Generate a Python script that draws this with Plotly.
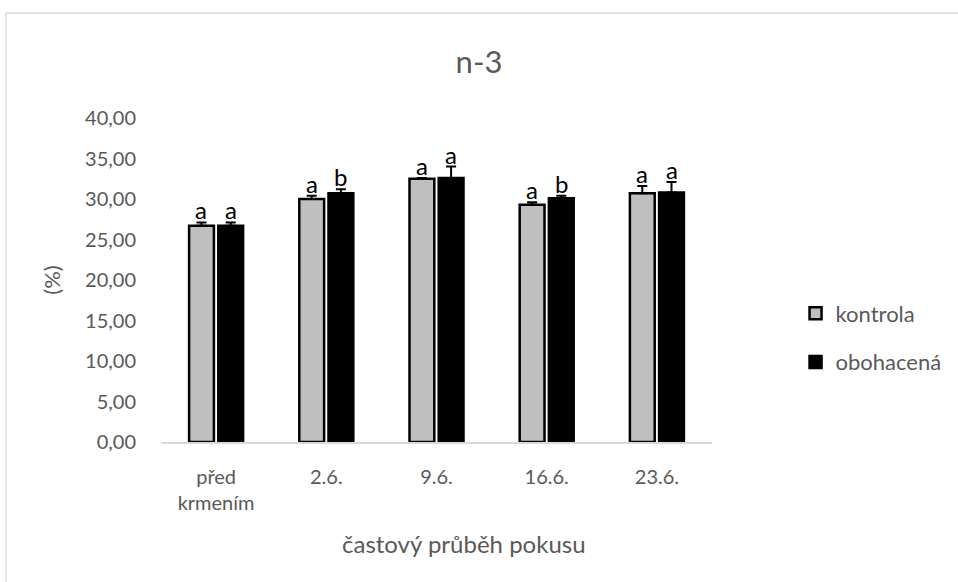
import plotly.graph_objects as go

categories = ["před<br>krmením", "2.6.", "9.6.", "16.6.", "23.6."]
kontrola = [26.7, 30.0, 32.5, 29.3, 30.7]
kontrola_err = [0.4, 0.4, 0.1, 0.3, 0.9]
obohacena = [26.7, 30.7, 32.6, 30.1, 30.8]
obohacena_err = [0.4, 0.5, 1.4, 0.3, 1.3]
letters_k = ["a", "a", "a", "a", "a"]
letters_o = ["a", "b", "a", "b", "a"]

FONT = "Lato"
GRAY = "#595959"
L, R, T, B = 161, 243, 118, 140
W, H = 958, 582
BARGAP = 0.47
PW, PH = W - L - R, H - T - B

fig = go.Figure()
fig.add_trace(go.Bar(
    name="kontrola", x=categories, y=kontrola, legendgroup="k",
    marker=dict(color="#bfbfbf", line=dict(color="black", width=2.5)),
    error_y=dict(type="data", array=kontrola_err, arrayminus=[0] * len(kontrola_err),
                 symmetric=False, color="black", thickness=2, width=5),
))
fig.add_trace(go.Bar(
    name="obohacená", x=categories, y=obohacena, legendgroup="o",
    marker=dict(color="black", line=dict(color="black", width=2.5)),
    error_y=dict(type="data", array=obohacena_err, arrayminus=[0] * len(obohacena_err),
                 symmetric=False, color="black", thickness=2, width=5),
))

cat_w = PW / len(categories)
off = cat_w * (1 - BARGAP) / 4
for i, c in enumerate(categories):
    for vals, errs, lets, sgn in ((kontrola, kontrola_err, letters_k, -1),
                                  (obohacena, obohacena_err, letters_o, 1)):
        fig.add_annotation(x=c, y=vals[i] + errs[i], text=lets[i], showarrow=False,
                           xshift=sgn * off, yanchor="bottom", yshift=-4,
                           font=dict(family=FONT, size=24, color="black"))

# x-axis title (placed as in the reference, centred on the chart area)
fig.add_annotation(xref="paper", yref="paper", x=(466 - L) / PW, y=-(543 - (H - B)) / PH,
                   text="častový průběh pokusu", showarrow=False,
                   xanchor="center", yanchor="middle",
                   font=dict(family=FONT, size=24, color=GRAY))

# chart-area frame (top and left edges visible in the crop)
x_left = (5 - L) / PW
x_right = (W + 20 - L) / PW
y_top = (H - B - 13) / PH
y_bot = -(B + 20) / PH
fig.add_shape(type="line", xref="paper", yref="paper", x0=x_left, x1=x_right, y0=y_top, y1=y_top,
              line=dict(color="#d9d9d9", width=1.3), layer="below")
fig.add_shape(type="line", xref="paper", yref="paper", x0=x_left, x1=x_left, y0=y_top, y1=y_bot,
              line=dict(color="#d9d9d9", width=1.3), layer="below")

fig.update_layout(
    width=W, height=H,
    margin=dict(l=L, r=R, t=T, b=B),
    paper_bgcolor="white", plot_bgcolor="white",
    barmode="group", bargap=BARGAP, bargroupgap=0.15,
    separators=",.",
    title=dict(text="n-3", x=0.5, xanchor="center", y=1 - 62 / H, yanchor="middle",
               font=dict(family=FONT, size=31, color=GRAY)),
    font=dict(family=FONT, size=20, color=GRAY),
    showlegend=True,
    legend=dict(x=(799 - L) / PW, xanchor="left", y=(442 - 338) / PH,
                yanchor="middle", tracegroupgap=17, font=dict(family=FONT, size=22, color=GRAY),
                itemwidth=30, bgcolor="rgba(0,0,0,0)"),
    xaxis=dict(showline=True, linecolor="#d9d9d9", linewidth=1.5, ticks="",
               showgrid=False, ticklabelstandoff=16,
               tickfont=dict(family=FONT, size=20, color=GRAY)),
    yaxis=dict(range=[0, 40], dtick=5, tickformat=".2f", showgrid=False, zeroline=False,
               showline=False, ticks="", ticklabelstandoff=24,
               tickfont=dict(family=FONT, size=20, color=GRAY),
               title=dict(text="(%)", standoff=18, font=dict(family=FONT, size=22, color=GRAY))),
)

fig.write_html("out.html", config={"displayModeBar": False},
               post_script="document.body.style.margin='0';document.body.style.overflow='hidden';")
